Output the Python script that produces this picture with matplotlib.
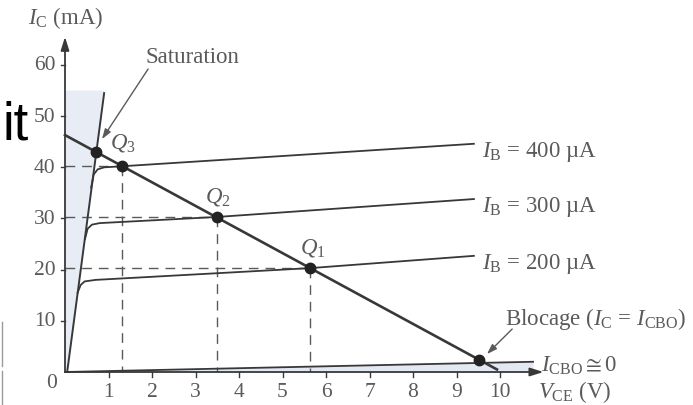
import matplotlib
matplotlib.use("Agg")
import matplotlib.pyplot as plt
from matplotlib.lines import Line2D

plt.rcParams['font.family'] = ['Liberation Serif', 'DejaVu Serif']
plt.rcParams['mathtext.fontset'] = 'custom'
plt.rcParams['mathtext.rm'] = 'Liberation Serif'
plt.rcParams['mathtext.it'] = 'Liberation Serif:italic'

# courbes de sortie I_C(V_CE)
ib_labels = ['$I_\\mathrm{B}$ = 400 µA', '$I_\\mathrm{B}$ = 300 µA', '$I_\\mathrm{B}$ = 200 µA']
ib_v = [
    [0.60, 0.66, 0.75, 0.90, 1.30, 9.40],
    [0.46, 0.52, 0.62, 0.80, 3.50, 9.40],
    [0.29, 0.36, 0.45, 0.70, 5.63, 9.40],
]
ib_i = [
    [36.0, 38.6, 39.6, 40.0, 40.2, 44.6],
    [26.0, 28.0, 28.8, 29.1, 30.3, 33.8],
    [15.5, 17.0, 17.7, 18.0, 20.3, 22.7],
]

# droite de saturation
sat_v = [0.05, 0.90]
sat_i = [0.0, 54.5]

# droite de charge
load_v = [0.0, 9.93]
load_i = [46.3, 0.5]

# courant de fuite I_CBO
icbo_v = [0.0, 10.76]
icbo_i = [0.0, 2.0]

# points de fonctionnement
q_v = [0.71, 1.30, 3.50, 5.63, 9.52]
q_i = [43.0, 40.2, 30.3, 20.3, 2.3]
q_names = ['$Q_3$', None, '$Q_2$', '$Q_1$', None]

x_ticks = [1, 2, 3, 4, 5, 6, 7, 8, 9, 10]
y_ticks = [10, 20, 30, 40, 50, 60]

line_col = '#383838'
text_col = '#5a5a5a'
fs = 16.5
fs_tick = 15.5

fig = plt.figure(figsize=(6.93, 4.06), dpi=100)
ax = fig.add_axes([0, 0, 1, 1])
ax.set_xlim(-65 / 43.5, 628 / 43.5)
ax.set_ylim(-33 / 5.117, 373 / 5.117)
ax.axis('off')

# zones grisees
ax.fill([0, 0, sat_v[1], sat_v[0]], [0, 55, 55, 0], color='#e8ecf5', lw=0, zorder=0)
ax.fill_between(icbo_v, 0, icbo_i, color='#e3e8f3', lw=0, zorder=0)

# axes avec fleches
ax.annotate('', xy=(0, 65.5), xytext=(0, 0),
            arrowprops=dict(arrowstyle='-|>,head_length=0.8,head_width=0.25', color=line_col, lw=1.3, shrinkA=0, shrinkB=0))
ax.annotate('', xy=(11.0, 0), xytext=(0, 0),
            arrowprops=dict(arrowstyle='-|>,head_length=0.8,head_width=0.25', color=line_col, lw=1.3, shrinkA=0, shrinkB=0))
for y in y_ticks:
    ax.plot([-0.1, 0], [y, y], color=line_col, lw=1.0)
    ax.text(-0.22, y, str(y), ha='right', va='center', fontsize=fs_tick, color=text_col)
ax.text(-0.3, -2.0, '0', ha='center', va='center', fontsize=fs_tick, color=text_col)
for x in x_ticks:
    ax.plot([x, x], [0, -1.0], color=line_col, lw=1.0)
    ax.text(x, -3.8, str(x), ha='center', va='center', fontsize=fs_tick, color=text_col)

ax.text(-0.85, 69.4, '$I_\\mathrm{C}$ (mA)', ha='left', va='center', fontsize=fs, color=text_col)
ax.text(10.87, -4.9, '$V_\\mathrm{CE}$ (V)', ha='left', va='baseline', fontsize=fs, color=text_col)

# pointilles vers les axes
for v, i in zip(q_v[1:4], q_i[1:4]):
    ax.plot([0, v], [i, i], color=text_col, lw=1.0, dashes=(7, 5), zorder=1)
    ax.plot([v, v], [i, 0], color=text_col, lw=1.0, dashes=(7, 5), zorder=1)

# courbes
ax.plot(sat_v, sat_i, color=line_col, lw=1.4, zorder=2)
for v, i, lab in zip(ib_v, ib_i, ib_labels):
    ax.plot(v, i, color=line_col, lw=1.3, zorder=2)
    ax.text(9.59, i[-1] - 2.4, lab, ha='left', va='baseline', fontsize=fs, color=text_col)
ax.plot(icbo_v, icbo_i, color=line_col, lw=1.3, zorder=2)
ax.plot(load_v, load_i, color=line_col, lw=1.9, zorder=3)
ax.plot(q_v, q_i, 'o', color='#222222', ms=7.5, zorder=4)

# etiquettes des points Q
q_text_pos = [(1.03, 45.0), None, (3.22, 34.4), (5.4, 24.4), None]
for name, pos in zip(q_names, q_text_pos):
    if name:
        ax.text(pos[0], pos[1], name, ha='left', va='center', fontsize=fs, color=text_col)

ax.text(1.84, 61.6, 'Saturation', ha='left', va='center', fontsize=fs, color=text_col)
ax.annotate('', xy=(0.85, 45.5), xytext=(1.91, 59.2),
            arrowprops=dict(arrowstyle='-|>,head_length=0.6,head_width=0.2', color=text_col, lw=1.0, shrinkA=0, shrinkB=0))
ax.text(10.11, 9.4, 'Blocage ($I_\\mathrm{C}$ = $I_\\mathrm{CBO}$)', ha='left', va='baseline', fontsize=fs, color=text_col)
ax.annotate('', xy=(9.7, 3.5), xytext=(10.28, 8.4),
            arrowprops=dict(arrowstyle='-|>,head_length=0.6,head_width=0.2', color=text_col, lw=1.0, shrinkA=0, shrinkB=0))
ax.text(10.95, 0.2, '$I_\\mathrm{CBO} \\cong 0$', ha='left', va='baseline', fontsize=fs, color=text_col)

# restes du document d'origine
fig.text(3 / 693, 1 - 140 / 406, 'it', ha='left', va='baseline', fontsize=38, color='black', family='Liberation Sans')
fig.add_artist(Line2D([1.5 / 693, 1.5 / 693], [1 - 323 / 406, 1 - 367 / 406], color='#9a9a9a', lw=1))
fig.add_artist(Line2D([1.5 / 693, 1.5 / 693], [1 - 372 / 406, 0], color='#9a9a9a', lw=1))

fig.savefig('out.png', dpi=100)
